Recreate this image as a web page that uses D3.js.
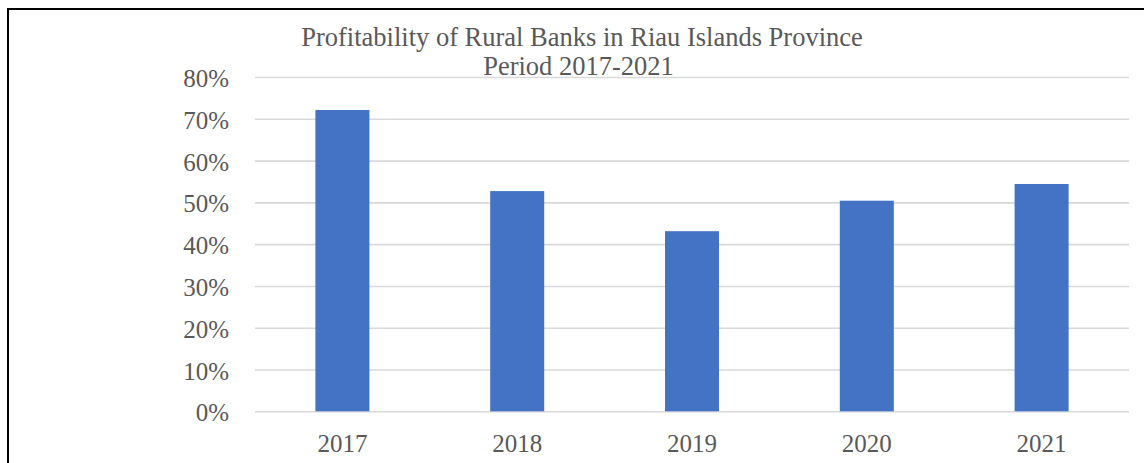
<!DOCTYPE html>
<html lang="en">
<head>
    <meta charset="UTF-8">
    <script src="https://d3js.org/d3.v7.min.js"></script>
    <title>Profitability of Rural Banks</title>
</head>
<style>
*{
    font-family: 'Liberation Serif', 'Times New Roman', serif;
}

body {
    margin: 0;
    background-color: #ffffff;
}

svg{
    display: block;
}

.bar{
    fill: #4472c4;
}

.tick line{
    stroke: #d9d9d9;
    stroke-width: 1.6;
}

.tick text{
    fill: #595959;
    font-size: 25px;
}

.title{
    fill: #595959;
    font-size: 26.5px;
}
</style>
<body>
    <svg id='canvas'></svg>
</body>
<script>
let years = ['2017', '2018', '2019', '2020', '2021']
let profitability = [0.721, 0.527, 0.431, 0.504, 0.544]
let yTicks = [0, 0.1, 0.2, 0.3, 0.4, 0.5, 0.6, 0.7, 0.8]
let titleLines = ['Profitability of Rural Banks in Riau Islands Province', 'Period 2017-2021']

let width = 1144
let height = 463

let plotLeft = 255
let plotRight = 1129
let plotTop = 77
let plotBottom = 411.3

let svg = d3.select('svg')
    .attr('width', width)
    .attr('height', height)

// outer frame, right and bottom edges fall outside the picture
svg.append('rect')
    .attr('x', 8)
    .attr('y', 9)
    .attr('width', 1160)
    .attr('height', 480)
    .attr('fill', 'none')
    .attr('stroke', '#000')
    .attr('stroke-width', 2)

let xScale = d3.scaleBand()
    .domain(years)
    .range([plotLeft, plotRight])
    .paddingInner(0.691)
    .paddingOuter(0.3455)

let yScale = d3.scaleLinear()
    .domain([0, 0.8])
    .range([plotBottom, plotTop])

let yAxis = d3.axisLeft(yScale)
    .tickValues(yTicks)
    .tickFormat(d3.format('.0%'))
    .tickSize(-(plotRight - plotLeft))
    .tickPadding(26)

svg.append('g')
    .attr('id', 'y-axis')
    .attr('transform', 'translate(' + plotLeft + ', 0)')
    .call(yAxis)
    .call(g => g.select('.domain').remove())
    .selectAll('text')
    .attr('dy', '0.38em')

let xAxis = d3.axisBottom(xScale)
    .tickSize(0)
    .tickPadding(22.6)

svg.append('g')
    .attr('id', 'x-axis')
    .attr('transform', 'translate(0, ' + plotBottom + ')')
    .call(xAxis)
    .call(g => g.select('.domain').remove())

svg.selectAll('.bar')
    .data(years)
    .enter()
    .append('rect')
    .attr('class', 'bar')
    .attr('x', (d) => xScale(d))
    .attr('width', xScale.bandwidth())
    .attr('y', (d, i) => yScale(profitability[i]))
    .attr('height', (d, i) => plotBottom - yScale(profitability[i]))

svg.selectAll('.title')
    .data(titleLines)
    .enter()
    .append('text')
    .attr('class', 'title')
    .attr('text-anchor', 'middle')
    .attr('x', (d, i) => i === 0 ? 582 : 578.5)
    .attr('y', (d, i) => i === 0 ? 46 : 75)
    .text((d) => d)
</script>
</html>
